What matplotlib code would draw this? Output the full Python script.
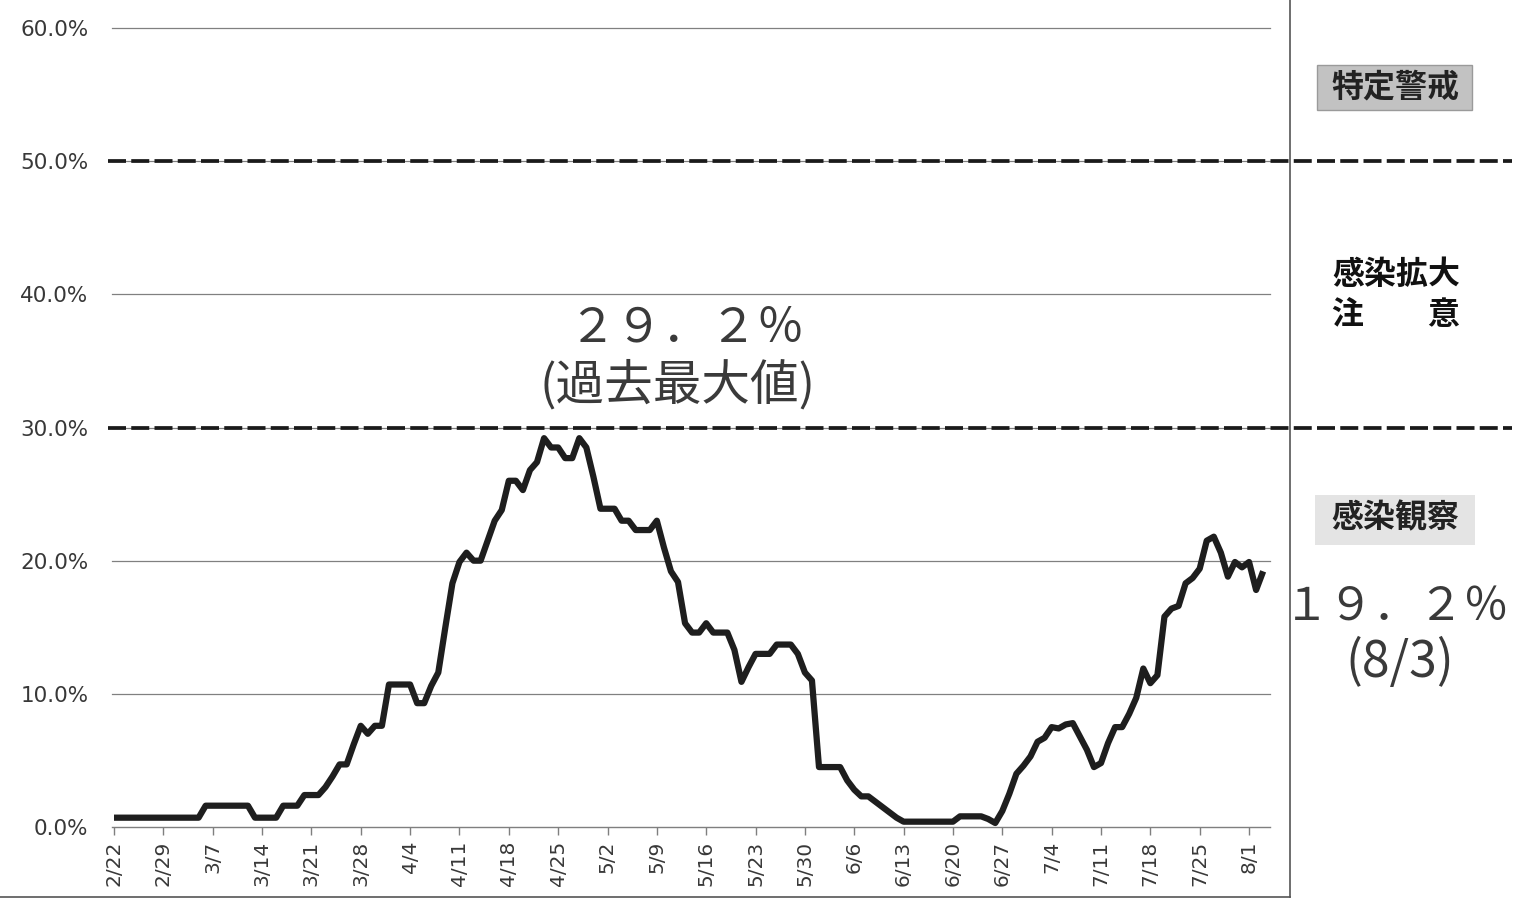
import matplotlib
matplotlib.use("Agg")
import matplotlib.pyplot as plt
import numpy as np
import pandas as pd
from matplotlib.patches import Rectangle
from matplotlib.lines import Line2D

# ---------------- data ----------------
start_date = "2020-02-22"
values = [
    0.7, 0.7, 0.7, 0.7, 0.7, 0.7, 0.7, 0.7, 0.7, 0.7, 0.7, 0.7, 0.7,
    1.6, 1.6, 1.6, 1.6, 1.6, 1.6, 1.6,
    0.7, 0.7, 0.7, 0.7,
    1.6, 1.6, 1.6,
    2.4, 2.4, 2.4,
    3.0, 3.8, 4.7, 4.7, 6.2, 7.6, 7.0, 7.6, 7.6,
    10.7, 10.7, 10.7, 10.7, 9.3, 9.3, 10.6, 11.6, 15.0, 18.3,
    19.9, 20.6, 20.0, 20.0, 21.5, 23.0, 23.8, 26.0, 26.0, 25.3,
    26.8, 27.4, 29.2, 28.5, 28.5, 27.7, 27.7, 29.2, 28.5, 26.3,
    23.9, 23.9, 23.9, 23.0, 23.0, 22.3, 22.3, 22.3, 23.0, 21.0,
    19.2, 18.4, 15.3, 14.6, 14.6, 15.3, 14.6, 14.6, 14.6, 13.3,
    10.9, 12.0, 13.0, 13.0, 13.0, 13.7, 13.7, 13.7, 13.0, 11.6,
    11.0, 4.5, 4.5, 4.5, 4.5, 3.5, 2.8, 2.3, 2.3, 1.9,
    1.5, 1.1, 0.7, 0.4, 0.4, 0.4, 0.4, 0.4, 0.4, 0.4,
    0.4, 0.8, 0.8, 0.8, 0.8, 0.6, 0.3, 1.2, 2.5, 4.0,
    4.6, 5.3, 6.4, 6.7, 7.5, 7.4, 7.7, 7.8, 6.8, 5.8,
    4.5, 4.8, 6.3, 7.5, 7.5, 8.5, 9.7, 11.9, 10.8, 11.4,
    15.8, 16.4, 16.6, 18.3, 18.7, 19.4, 21.5, 21.8, 20.6, 18.8,
    19.9, 19.5, 19.9, 17.8, 19.2,
]
tick_labels = ["2/22", "2/29", "3/7", "3/14", "3/21", "3/28", "4/4", "4/11",
               "4/18", "4/25", "5/2", "5/9", "5/16", "5/23", "5/30", "6/6",
               "6/13", "6/20", "6/27", "7/4", "7/11", "7/18", "7/25", "8/1"]
y_ticks = [0, 10, 20, 30, 40, 50, 60]
y_tick_labels = ["0.0%", "10.0%", "20.0%", "30.0%", "40.0%", "50.0%", "60.0%"]
threshold_levels = [30, 50]
zone_labels = ["特定警戒", "感染拡大", "注　　意", "感染観察"]
max_label = ["２９．２％", "(過去最大値)"]
latest_label = ["１９．２％", "(8/3)"]

dates = pd.date_range(start_date, periods=len(values), freq="D")
day_index = np.arange(len(dates))

# ---------------- figure ----------------
W, H = 1515, 901
fig = plt.figure(figsize=(W / 100, H / 100), dpi=100)
fig.patch.set_facecolor("white")
plt.rcParams["font.family"] = ["DejaVu Sans", "Noto Sans CJK JP"]
JP = ["Noto Sans CJK JP", "DejaVu Sans"]


def fx(px):
    return px / W


def fy(py):
    return 1 - py / H


ax_l, ax_r, ax_b, ax_t = 112, 1270, 827, 28
ax = fig.add_axes([fx(ax_l), fy(ax_b), fx(ax_r) - fx(ax_l), fy(ax_t) - fy(ax_b)])
ax.set_facecolor("none")
px_per_day = 7.05
x0_px = 114
ax.set_xlim((ax_l - x0_px) / px_per_day, (ax_r - x0_px) / px_per_day)
ax.set_ylim(0, 60)

for s in ["top", "right", "left"]:
    ax.spines[s].set_visible(False)
ax.spines["bottom"].set_color("#7f7f7f")
ax.spines["bottom"].set_linewidth(1.0)

# gridlines
for v in y_ticks[1:]:
    ax.axhline(v, color="#808080", lw=0.9, zorder=1, clip_on=False)

# thresholds (dashed, extending beyond plot)
span = ax_r - ax_l
for v in threshold_levels:
    ax.axhline(v, xmin=(108 - ax_l) / span, xmax=(1512 - ax_l) / span,
               color="#1a1a1a", lw=2.7, dashes=(4.8, 1.4), clip_on=False,
               zorder=4)

# data line
ax.plot(day_index, values, color="#1e1e1e", lw=4.5, zorder=5,
        solid_joinstyle="round", solid_capstyle="butt")

# ticks
tick_pos = day_index[::7]
ax.set_xticks(tick_pos)
ax.set_xticklabels(tick_labels, rotation=90)
ax.tick_params(axis="x", direction="out", length=6, width=1,
               color="#7f7f7f", labelsize=14.5, labelcolor="#383838", pad=4)
ax.set_yticks(y_ticks)
ax.set_yticklabels(y_tick_labels)
ax.tick_params(axis="y", length=0, labelsize=15.5, labelcolor="#383838",
               pad=17)

# chart frame lines
fig.add_artist(Line2D([fx(1290), fx(1290)], [fy(0), fy(897)],
                      color="#555555", lw=1.2))
fig.add_artist(Line2D([0, fx(1290)], [fy(897), fy(897)],
                      color="#555555", lw=1.2))

# annotations
fig.text(fx(686), fy(328), max_label[0], family=JP, fontsize=34,
         color="#3a3a3a", ha="center", va="center")
fig.text(fx(678), fy(385), max_label[1], family=JP, fontsize=35,
         color="#3a3a3a", ha="center", va="center")
fig.text(fx(1284), fy(608), latest_label[0], family=JP, fontsize=32.5,
         color="#3a3a3a", ha="left", va="center")
fig.text(fx(1400), fy(663), latest_label[1], family=JP, fontsize=36,
         color="#3a3a3a", ha="center", va="center")

# zone labels
fig.add_artist(Rectangle((fx(1317), fy(110)), fx(1472) - fx(1317),
                         fy(65) - fy(110), transform=fig.transFigure,
                         facecolor="#c2c2c2", edgecolor="#9a9a9a", lw=1))
fig.add_artist(Rectangle((fx(1315), fy(545)), fx(1475) - fx(1315),
                         fy(495) - fy(545), transform=fig.transFigure,
                         facecolor="#e4e4e4", edgecolor="none"))
fig.text(fx(1395), fy(87), zone_labels[0], family=JP, fontsize=23,
         fontweight="bold", style="italic", color="#222222",
         ha="center", va="center")
fig.text(fx(1396), fy(275), zone_labels[1], family=JP, fontsize=23,
         fontweight="bold", style="italic", color="#111111",
         ha="center", va="center")
fig.text(fx(1396), fy(315), zone_labels[2], family=JP, fontsize=23,
         fontweight="bold", style="italic", color="#111111",
         ha="center", va="center")
fig.text(fx(1395), fy(518), zone_labels[3], family=JP, fontsize=23,
         fontweight="bold", style="italic", color="#222222",
         ha="center", va="center")

fig.savefig("out.png", dpi=100)
